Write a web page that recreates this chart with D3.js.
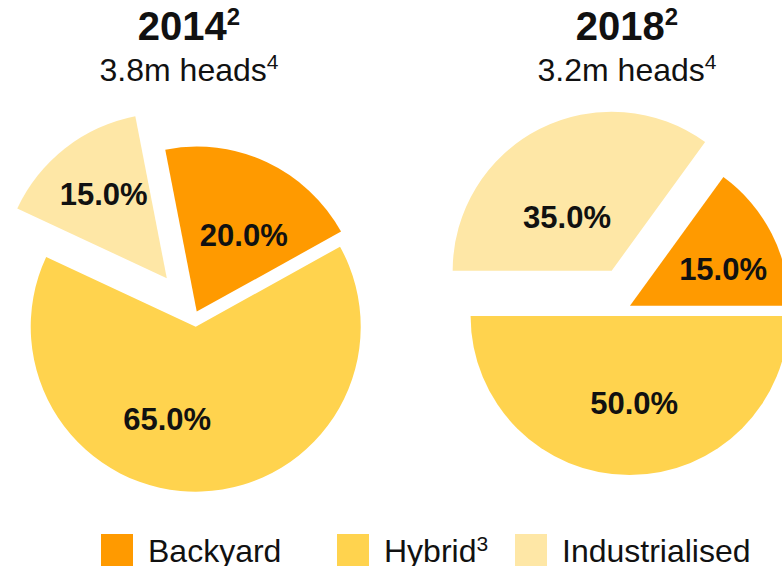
<!DOCTYPE html>
<html>
<meta charset="utf-8">
<head>
<style>
body {
    margin: 0;
    background: #fff;
}
svg text {
    font-family: "Liberation Sans", Arial, sans-serif;
    fill: #111;
}
.pct {
    font-size: 31px;
    font-weight: bold;
}
.title {
    font-size: 40px;
    font-weight: bold;
}
.sub {
    font-size: 32px;
}
.legend text {
    font-size: 32px;
}
</style>
<script src="https://d3js.org/d3.v7.min.js"></script>
</head>
<body>
<script type="text/javascript">
// data
var categories = ["Backyard", "Hybrid", "Industrialised"];
var years = ["2014", "2018"];
var heads = ["3.8m", "3.2m"];
var shares2014 = [20, 65, 15];
var shares2018 = [15, 50, 35];
var colors = ["#FF9A00", "#FFD34E", "#FEE7A6"];

// layout of each pie (centre, radius, start angle, exploded offsets, label tweaks)
var pies = [
    {
        year: years[0], heads: heads[0], values: shares2014,
        cx: 195.3, cy: 314.7, r: 165, start: -11,
        explode: [3.4, 12, 46.3],
        labelAngle: [6.4, 19.2, 1.3], labelFrac: [0.547, 0.585, 0.64],
        titleX: 189
    },
    {
        year: years[1], heads: heads[1], values: shares2018,
        cx: 629.6, cy: 305.9, r: 159, start: 36,
        explode: [0.4, 10.1, 39.5],
        labelAngle: [5.4, -3, -12.6], labelFrac: [0.63, 0.55, 0.44],
        titleX: 627
    }
];

var width = 782, height = 566;
var rad = Math.PI / 180;

var svg = d3.select("body").append("svg")
    .attr("width", width)
    .attr("height", height);

pies.forEach(function(p) {
    var pie = d3.pie().sort(null)
        .startAngle(p.start * rad)
        .endAngle(p.start * rad + 2 * Math.PI);

    var arc = d3.arc().innerRadius(0).outerRadius(p.r);

    var arcs = pie(p.values);

    var g = svg.append("g")
        .attr("transform", "translate(" + p.cx + "," + p.cy + ")");

    var slice = g.selectAll(".slice")
        .data(arcs)
      .enter().append("g")
        .attr("class", "slice")
        .attr("transform", function(d, i) {
            var a = (d.startAngle + d.endAngle) / 2;
            var e = p.explode[i];
            return "translate(" + (Math.sin(a) * e) + "," + (-Math.cos(a) * e) + ")";
        });

    slice.append("path")
        .attr("d", arc)
        .attr("fill", function(d, i) { return colors[i]; });

    slice.append("text")
        .attr("class", "pct")
        .attr("text-anchor", "middle")
        .attr("dy", "0.36em")
        .attr("x", function(d, i) {
            var a = (d.startAngle + d.endAngle) / 2 + p.labelAngle[i] * rad;
            return Math.sin(a) * p.r * p.labelFrac[i];
        })
        .attr("y", function(d, i) {
            var a = (d.startAngle + d.endAngle) / 2 + p.labelAngle[i] * rad;
            return -Math.cos(a) * p.r * p.labelFrac[i];
        })
        .text(function(d) { return d.data.toFixed(1) + "%"; });

    // titles
    var t = svg.append("text")
        .attr("class", "title")
        .attr("text-anchor", "middle")
        .attr("x", p.titleX)
        .attr("y", 40);
    t.append("tspan").text(p.year);
    t.append("tspan").attr("dy", -15).style("font-size", "24px").text("2");

    var s = svg.append("text")
        .attr("class", "sub")
        .attr("text-anchor", "middle")
        .attr("x", p.titleX)
        .attr("y", 81);
    s.append("tspan").text(p.heads + " heads");
    s.append("tspan").attr("dy", -12).style("font-size", "21px").text("4");
});

// legend
var legendX = [101, 337, 515];
var legend = svg.append("g").attr("class", "legend");

var item = legend.selectAll("g")
    .data(categories)
  .enter().append("g")
    .attr("transform", function(d, i) { return "translate(" + legendX[i] + ",534)"; });

item.append("rect")
    .attr("width", 32)
    .attr("height", 32)
    .attr("fill", function(d, i) { return colors[i]; });

var lt = item.append("text")
    .attr("x", 47)
    .attr("y", 27.7);
lt.append("tspan").text(function(d) { return d; });
lt.filter(function(d) { return d == "Hybrid"; })
    .append("tspan")
    .attr("dy", -11)
    .style("font-size", "21px")
    .text("3");
</script>
</body>
</html>
